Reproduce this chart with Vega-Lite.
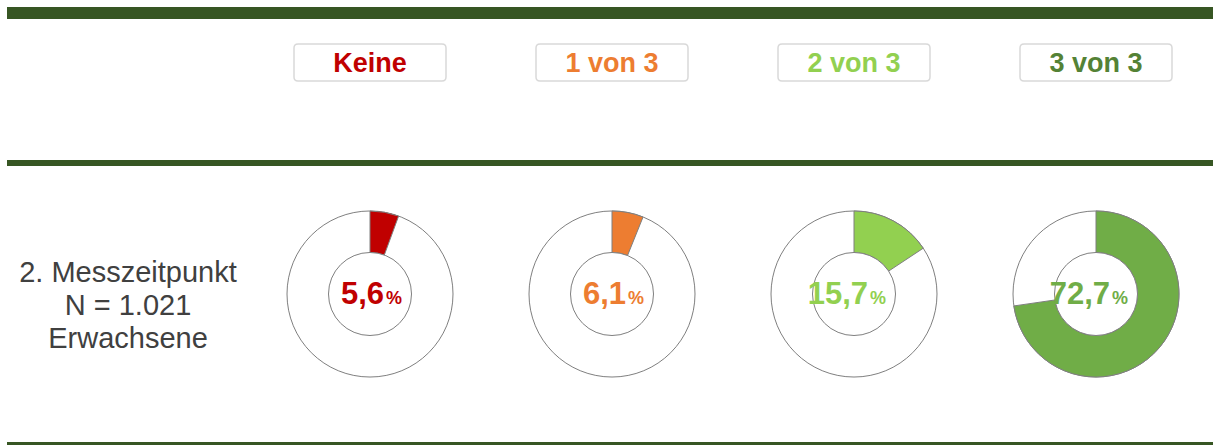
{
  "$schema": "https://vega.github.io/schema/vega-lite/v6.json",
  "width": 1213,
  "height": 445,
  "autosize": {"type": "fit", "contains": "padding"},
  "padding": 0,
  "background": "white",
  "config": {
    "view": {"stroke": null},
    "font": "Liberation Sans",
    "locale": {"number": {"decimal": ",", "thousands": ".", "grouping": [3], "currency": ["", " €"]}}
  },
  "datasets": {
    "gruppen": [
      {"gruppe": "Keine", "anteil": 5.6},
      {"gruppe": "1 von 3", "anteil": 6.1},
      {"gruppe": "2 von 3", "anteil": 15.7},
      {"gruppe": "3 von 3", "anteil": 72.7}
    ],
    "zeile": [
      {"gruppe": "Zeitpunkt", "beschriftung": ["2. Messzeitpunkt", "N = 1.021", "Erwachsene"]}
    ],
    "linien": [{"linie": "Rahmen"}]
  },
  "resolve": {"scale": {"color": "independent"}},
  "layer": [
    {
      "data": {"name": "linien"},
      "mark": {"type": "rect", "x": 7, "x2": 1213, "y": 7, "y2": 19, "fill": "#375623"},
      "encoding": {}
    },
    {
      "data": {"name": "linien"},
      "mark": {"type": "rect", "x": 7, "x2": 1213, "y": 160, "y2": 166, "fill": "#375623"},
      "encoding": {}
    },
    {
      "data": {"name": "linien"},
      "mark": {"type": "rect", "x": 7, "x2": 1213, "y": 442, "y2": 445, "fill": "#375623"},
      "encoding": {}
    },
    {
      "data": {"name": "gruppen"},
      "mark": {
        "type": "point",
        "shape": "M -0.947,-0.2434 L 0.947,-0.2434 Q 1,-0.2434 1,-0.19 L 1,0.19 Q 1,0.2434 0.947,0.2434 L -0.947,0.2434 Q -1,0.2434 -1,0.19 L -1,-0.19 Q -1,-0.2434 -0.947,-0.2434 Z",
        "size": 23104,
        "filled": true,
        "fill": "white",
        "stroke": "#d9d9d9",
        "strokeWidth": 1.5,
        "opacity": 1
      },
      "encoding": {
        "x": {"field": "gruppe", "type": "nominal", "scale": {"type": "point", "domain": ["Zeitpunkt", "Keine", "1 von 3", "2 von 3", "3 von 3"], "range": [128, 1096], "padding": 0}, "axis": null},
        "y": {"datum": "Kategorie", "type": "nominal", "scale": {"type": "point", "domain": ["Kategorie", "2. Messzeitpunkt"], "range": [62.5, 294], "padding": 0}, "axis": null}
      }
    },
    {
      "data": {"name": "gruppen"},
      "mark": {"type": "text", "fontSize": 27, "fontWeight": "bold", "baseline": "middle", "align": "center", "dy": 1},
      "encoding": {
        "x": {"field": "gruppe", "type": "nominal"},
        "y": {"datum": "Kategorie", "type": "nominal"},
        "text": {"field": "gruppe", "type": "nominal"},
        "color": {"field": "gruppe", "type": "nominal", "scale": {"domain": ["Keine", "1 von 3", "2 von 3", "3 von 3"], "range": ["#c00000", "#ed7d31", "#92d050", "#548235"]}, "legend": null}
      }
    },
    {
      "data": {"name": "gruppen"},
      "mark": {"type": "point", "shape": "circle", "size": 27556, "filled": true, "fill": "white", "stroke": "#7f7f7f", "strokeWidth": 1, "opacity": 1},
      "encoding": {
        "x": {"field": "gruppe", "type": "nominal"},
        "y": {"datum": "2. Messzeitpunkt", "type": "nominal"}
      }
    },
    {
      "data": {"name": "gruppen"},
      "mark": {"type": "arc", "outerRadius": 83, "innerRadius": 41.5, "stroke": "#7f7f7f", "strokeWidth": 1},
      "encoding": {
        "x": {"field": "gruppe", "type": "nominal"},
        "y": {"datum": "2. Messzeitpunkt", "type": "nominal"},
        "theta": {"field": "anteil", "type": "quantitative", "stack": null, "scale": {"domain": [0, 100], "range": [0, 6.283185307]}},
        "theta2": {"datum": 0},
        "color": {"field": "gruppe", "type": "nominal", "scale": {"domain": ["Keine", "1 von 3", "2 von 3", "3 von 3"], "range": ["#c00000", "#ed7d31", "#92d050", "#70ad47"]}, "legend": null}
      }
    },
    {
      "data": {"name": "gruppen"},
      "mark": {"type": "point", "shape": "circle", "size": 6889, "filled": true, "fill": "white", "stroke": "#7f7f7f", "strokeWidth": 1, "opacity": 1},
      "encoding": {
        "x": {"field": "gruppe", "type": "nominal"},
        "y": {"datum": "2. Messzeitpunkt", "type": "nominal"}
      }
    },
    {
      "data": {"name": "gruppen"},
      "mark": {"type": "text", "fontSize": 31, "fontWeight": "bold", "baseline": "alphabetic", "align": "right", "dx": 14, "dy": 10},
      "encoding": {
        "x": {"field": "gruppe", "type": "nominal"},
        "y": {"datum": "2. Messzeitpunkt", "type": "nominal"},
        "text": {"field": "anteil", "type": "quantitative", "format": ".1f"},
        "color": {"field": "gruppe", "type": "nominal", "scale": {"domain": ["Keine", "1 von 3", "2 von 3", "3 von 3"], "range": ["#c00000", "#ed7d31", "#92d050", "#70ad47"]}, "legend": null}
      }
    },
    {
      "data": {"name": "gruppen"},
      "mark": {"type": "text", "fontSize": 18, "fontWeight": "bold", "baseline": "alphabetic", "align": "left", "dx": 16, "dy": 10, "text": "%"},
      "encoding": {
        "x": {"field": "gruppe", "type": "nominal"},
        "y": {"datum": "2. Messzeitpunkt", "type": "nominal"},
        "color": {"field": "gruppe", "type": "nominal", "scale": {"domain": ["Keine", "1 von 3", "2 von 3", "3 von 3"], "range": ["#c00000", "#ed7d31", "#92d050", "#70ad47"]}, "legend": null}
      }
    },
    {
      "data": {"name": "zeile"},
      "mark": {"type": "text", "fontSize": 29, "baseline": "middle", "align": "center", "lineHeight": 33, "color": "#404040", "dy": -21},
      "encoding": {
        "x": {"field": "gruppe", "type": "nominal"},
        "y": {"datum": "2. Messzeitpunkt", "type": "nominal"},
        "text": {"field": "beschriftung"}
      }
    }
  ]
}
